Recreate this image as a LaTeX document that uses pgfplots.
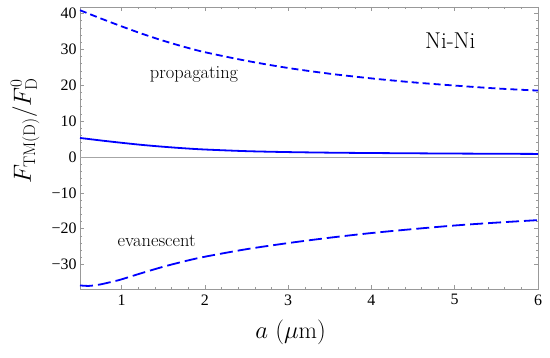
\documentclass[border=0pt]{standalone}
\usepackage{fontspec}
\usepackage{pgfplots}
\pgfplotsset{compat=1.18}
\newfontfamily\timesfont{Liberation Serif}
\definecolor{mblue}{rgb}{0,0,1}
\begin{document}
\begin{tikzpicture}
\begin{axis}[
  scale only axis, width=458bp, height=282bp,
  xmin=0.5, xmax=6, ymin=-36.8, ymax=41.8,
  xtick={1,2,3,4,5,6},
  ytick={-30,-20,-10,0,10,20,30,40},
  yticklabels={−30,−20,−10,0,10,20,30,40},
  minor x tick num=4, minor y tick num=4,
  tick align=inside,
  axis line style={gray!80},
  tick style={gray!80, line width=0.5bp},
  major tick length=4bp, minor tick length=2.4bp,
  /pgf/number format/assume math mode=true,
  tick label style={font=\timesfont\fontsize{16}{16}\selectfont},
  xticklabel style={yshift=-2bp},
  xlabel={$a\ (\mu\mathrm{m})$},
  ylabel={$F_{\mathrm{TM(D)}}/F^0_{\mathrm{D}}$},
  label style={font=\fontsize{24}{24}\selectfont},
  xlabel style={at={(axis description cs:0.46,-0.155)}, anchor=center},
  ylabel style={at={(axis description cs:-0.12,0.56)}, anchor=center},
]
\addplot[gray!70, line width=0.8bp] coordinates {(0.5,0) (6,0)};
% total (solid)
\addplot[mblue, line width=1.8bp, smooth] coordinates {
(0.5,5.3) (0.75,4.6) (1,3.95) (1.25,3.35) (1.5,2.85) (1.75,2.42) (2,2.08) (2.5,1.62) (3,1.36) (3.5,1.2) (4,1.1) (5,0.95) (6,0.85)};
% propagating
\addplot[mblue, line width=1.8bp, smooth, dash pattern=on 7bp off 4bp] coordinates {
(0.5,40.9) (0.75,38.6) (1,36.4) (1.25,34.3) (1.5,32.4) (1.75,30.7) (2,29.2) (2.5,26.8) (3,24.8) (3.5,23.2) (4,21.9) (4.5,20.8) (5,19.9) (5.5,19.1) (6,18.5)};
% evanescent
\addplot[mblue, line width=1.8bp, smooth, dash pattern=on 13bp off 5bp] coordinates {
(0.5,-35.8) (0.55,-35.9) (0.6,-35.95) (0.65,-35.85) (0.75,-35.5) (0.9,-34.7) (1,-34.1) (1.25,-32.3) (1.5,-30.6) (1.75,-29.1) (2,-27.8) (2.5,-25.7) (3,-24.0) (3.5,-22.5) (4,-21.2) (4.5,-20.1) (5,-19.1) (5.5,-18.3) (6,-17.6)};
\node[anchor=base, font=\fontsize{18.5}{18.5}\selectfont] at (axis cs:1.87,21.9) {propagating};
\node[anchor=base, font=\fontsize{18.5}{18.5}\selectfont] at (axis cs:1.42,-24.9) {evanescent};
\node[anchor=base, font=\fontsize{23}{23}\selectfont] at (axis cs:4.946,30.2) {Ni-Ni};
\end{axis}
\pgfresetboundingbox
\path (current axis.south west) ++(-80bp,-69bp) coordinate (BL);
\path (current axis.north east) ++(12bp,7bp) coordinate (TR);
\path (BL) rectangle (TR);
\end{tikzpicture}
\end{document}
